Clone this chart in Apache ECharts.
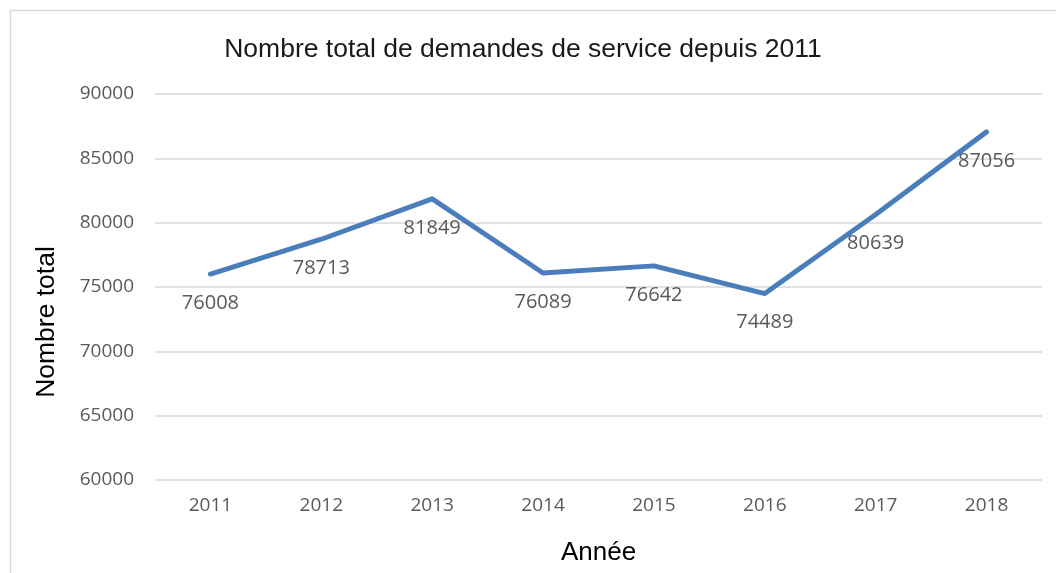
<!DOCTYPE html>
<html>
<head>
<meta charset="utf-8">
<script src="https://cdn.jsdelivr.net/npm/echarts@6/dist/echarts.min.js"></script>
<style>
  html, body { margin: 0; padding: 0; background: #fff; }
  #chart { width: 1056px; height: 573px; }
</style>
</head>
<body>
<div id="chart"></div>
<script>
// données
const years = ["2011", "2012", "2013", "2014", "2015", "2016", "2017", "2018"];
const demandes = [76008, 78713, 81849, 76089, 76642, 74489, 80639, 87056];
const yTicks = [60000, 65000, 70000, 75000, 80000, 85000, 90000];

const chart = echarts.init(document.getElementById("chart"));
const option = {
  animation: false,
  backgroundColor: "#fff",
  title: {
    text: "Nombre total de demandes de service depuis 2011",
    left: 518,
    textAlign: "center",
    top: 31,
    textStyle: { fontFamily: "Liberation Sans", fontSize: 26.5, fontWeight: "normal", color: "#1a1a1a" },
  },
  graphic: [
    {
      type: "rect",
      shape: { x: 10.5, y: 10.5, width: 1100, height: 600 },
      style: { fill: "none", stroke: "#d9d9d9", lineWidth: 1.5 },
      silent: true,
    },
    {
      type: "text",
      x: 47,
      y: 322,
      rotation: Math.PI / 2,
      style: {
        text: "Nombre total",
        fontFamily: "Liberation Sans",
        fontSize: 26.5,
        fill: "#000",
        align: "center",
        verticalAlign: "middle",
      },
    },
  ],
  grid: { left: 155, right: 14, top: 94, bottom: 93, containLabel: false, outerBoundsMode: "none" },
  xAxis: {
    type: "category",
    data: years,
    boundaryGap: true,
    name: "Année",
    nameLocation: "middle",
    nameGap: 60,
    nameTextStyle: { fontFamily: "Liberation Sans", fontSize: 26, color: "#000" },
    axisLine: { show: false },
    axisTick: { show: false },
    axisLabel: { fontFamily: "Open Sans", fontSize: 19, color: "#595959", margin: 16 },
  },
  yAxis: {
    type: "value",
    min: yTicks[0],
    max: yTicks[yTicks.length - 1],
    interval: 5000,
    axisLine: { show: false },
    axisTick: { show: false },
    axisLabel: { fontFamily: "Open Sans", fontSize: 19, color: "#595959", margin: 21, formatter: (v) => String(v) },
    splitLine: { lineStyle: { color: "#d9d9d9", width: 1.5 } },
  },
  series: [
    {
      type: "line",
      data: demandes,
      symbol: "circle",
      symbolSize: 2,
      showSymbol: true,
      itemStyle: { color: "#4a7ebb", borderWidth: 0 },
      lineStyle: { color: "#4a7ebb", width: 5, cap: "round", join: "round" },
      label: {
        show: true,
        position: "bottom",
        distance: 18,
        fontFamily: "Open Sans",
        fontSize: 20,
        color: "#595959",
      },
    },
  ],
};
chart.setOption(option);
</script>
</body>
</html>
